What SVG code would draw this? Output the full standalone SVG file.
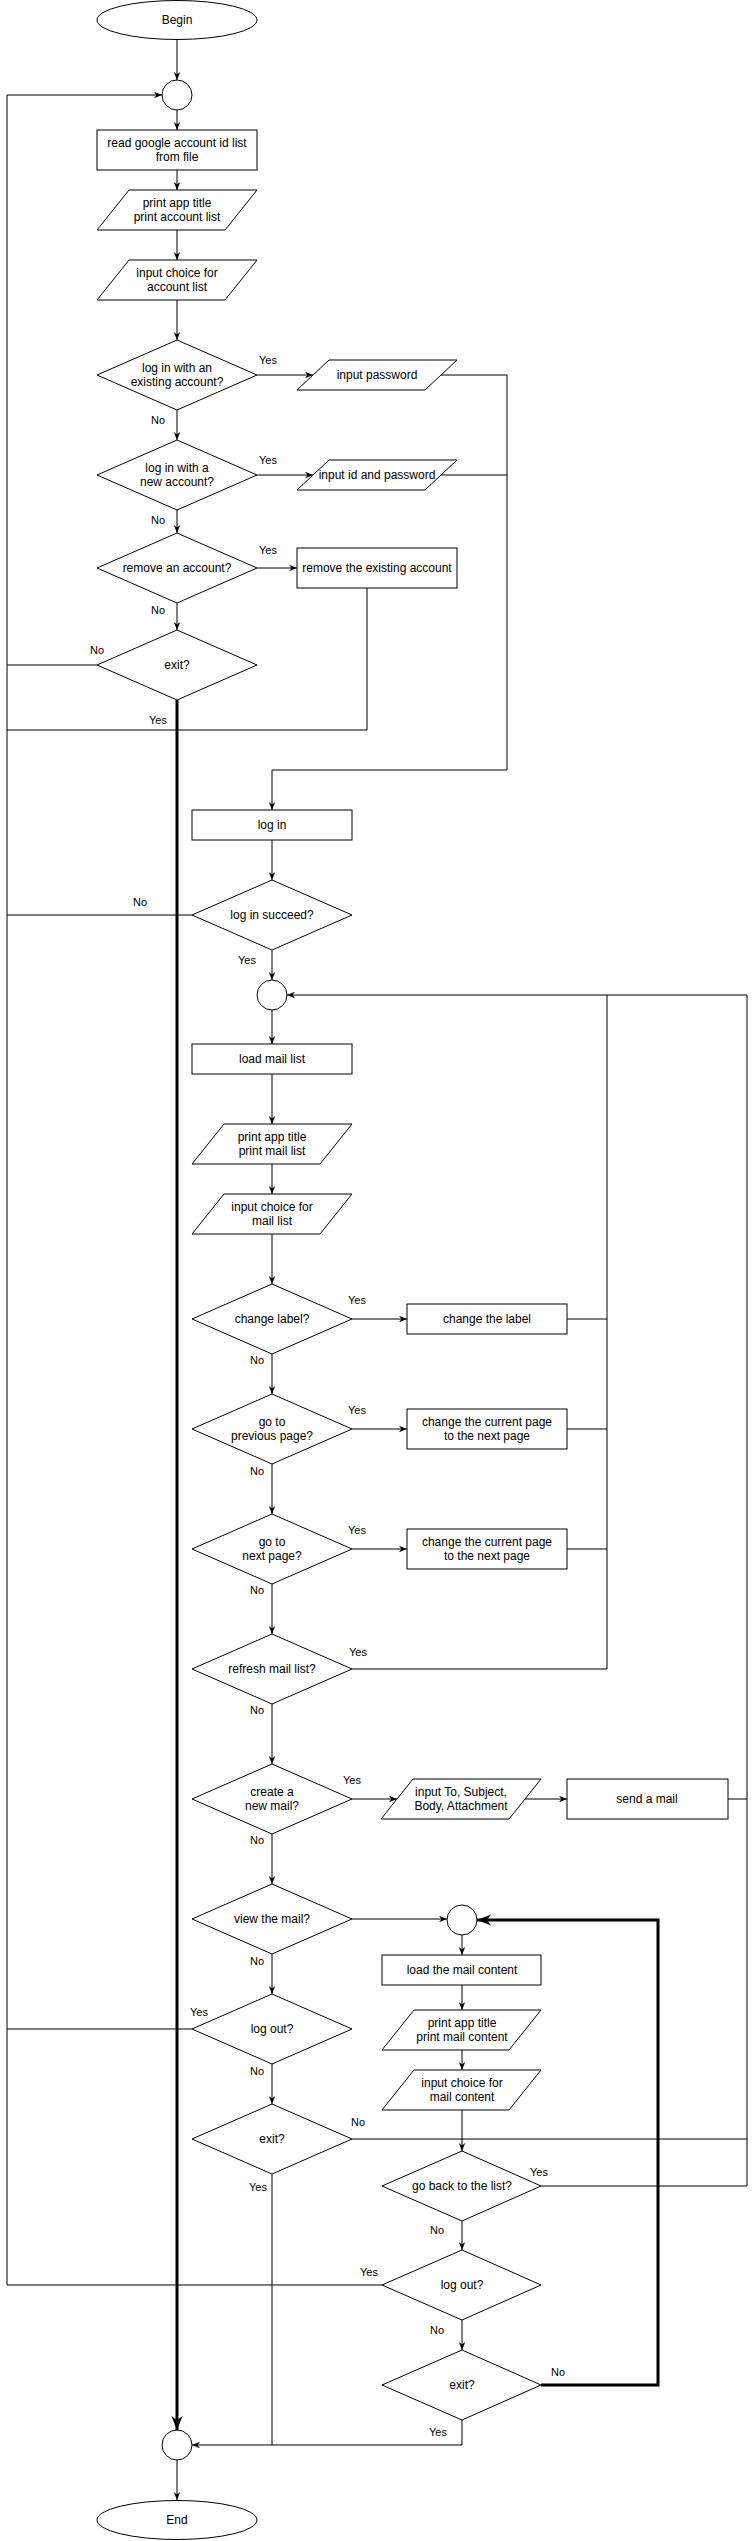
<svg xmlns="http://www.w3.org/2000/svg" width="756" height="2541" viewBox="0 0 756 2541">
<style>
.n{fill:#fff;stroke:#000;stroke-width:1}
.c{fill:none;stroke:#000;stroke-width:1}
.k{fill:none;stroke:#000;stroke-width:3}
text{font-family:"Liberation Sans",Arial,sans-serif;font-size:12px;text-anchor:middle;fill:#000}
.l{font-size:11px}
</style>
<defs>
<marker id="a" viewBox="0 0 10 10" refX="10" refY="5" markerWidth="8" markerHeight="8" orient="auto" markerUnits="userSpaceOnUse"><path d="M0,1 L10,5 L0,9 L3,5 z" fill="#000"/></marker>
<marker id="b" viewBox="0 0 10 10" refX="10" refY="5" markerWidth="14" markerHeight="14" orient="auto" markerUnits="userSpaceOnUse"><path d="M0,1 L10,5 L0,9 L3,5 z" fill="#000"/></marker>
</defs>
<g id="connectors">
<path class="c" d="M177,40 V80" marker-end="url(#a)"/>
<path class="c" d="M7,2285 V95 H162" marker-end="url(#a)"/>
<path class="c" d="M97,665 H7"/>
<path class="c" d="M192,915 H7"/>
<path class="c" d="M192,2029 H7"/>
<path class="c" d="M382,2285 H7"/>
<path class="c" d="M367,588 V730 H7"/>
<path class="c" d="M177,110 V130" marker-end="url(#a)"/>
<path class="c" d="M177,170 V190" marker-end="url(#a)"/>
<path class="c" d="M177,230 V260" marker-end="url(#a)"/>
<path class="c" d="M177,300 V340" marker-end="url(#a)"/>
<path class="c" d="M257,375 H313" marker-end="url(#a)"/>
<path class="c" d="M177,410 V440" marker-end="url(#a)"/>
<path class="c" d="M257,475 H313" marker-end="url(#a)"/>
<path class="c" d="M177,510 V533" marker-end="url(#a)"/>
<path class="c" d="M257,568 H297" marker-end="url(#a)"/>
<path class="c" d="M177,603 V630" marker-end="url(#a)"/>
<path class="c" d="M441,375 H507 V770 H272 V810" marker-end="url(#a)"/>
<path class="c" d="M441,475 H507"/>
<path class="k" d="M177,700 V2430" marker-end="url(#b)"/>
<path class="c" d="M272,840 V880" marker-end="url(#a)"/>
<path class="c" d="M272,950 V980" marker-end="url(#a)"/>
<path class="c" d="M272,1010 V1044" marker-end="url(#a)"/>
<path class="c" d="M272,1074 V1124" marker-end="url(#a)"/>
<path class="c" d="M272,1164 V1194" marker-end="url(#a)"/>
<path class="c" d="M272,1234 V1284" marker-end="url(#a)"/>
<path class="c" d="M352,1319 H407" marker-end="url(#a)"/>
<path class="c" d="M567,1319 H607"/>
<path class="c" d="M272,1354 V1394" marker-end="url(#a)"/>
<path class="c" d="M352,1429 H407" marker-end="url(#a)"/>
<path class="c" d="M567,1429 H607"/>
<path class="c" d="M272,1464 V1514" marker-end="url(#a)"/>
<path class="c" d="M352,1549 H407" marker-end="url(#a)"/>
<path class="c" d="M567,1549 H607"/>
<path class="c" d="M272,1584 V1634" marker-end="url(#a)"/>
<path class="c" d="M352,1669 H607 V995"/>
<path class="c" d="M747,2186 V995 H287" marker-end="url(#a)"/>
<path class="c" d="M272,1704 V1764" marker-end="url(#a)"/>
<path class="c" d="M352,1799 H397" marker-end="url(#a)"/>
<path class="c" d="M525,1799 H567" marker-end="url(#a)"/>
<path class="c" d="M728,1799 H747"/>
<path class="c" d="M272,1834 V1884" marker-end="url(#a)"/>
<path class="c" d="M352,1919 H447" marker-end="url(#a)"/>
<path class="c" d="M272,1954 V1994" marker-end="url(#a)"/>
<path class="c" d="M272,2064 V2104" marker-end="url(#a)"/>
<path class="c" d="M352,2139 H747"/>
<path class="c" d="M272,2174 V2445"/>
<path class="c" d="M462,1935 V1955" marker-end="url(#a)"/>
<path class="c" d="M462,1985 V2010" marker-end="url(#a)"/>
<path class="c" d="M462,2050 V2070" marker-end="url(#a)"/>
<path class="c" d="M462,2110 V2151" marker-end="url(#a)"/>
<path class="c" d="M541,2186 H747"/>
<path class="c" d="M462,2221 V2250" marker-end="url(#a)"/>
<path class="c" d="M462,2320 V2350" marker-end="url(#a)"/>
<path class="k" d="M541,2385 H658 V1920 H477" marker-end="url(#b)"/>
<path class="c" d="M462,2420 V2445 H192" marker-end="url(#a)"/>
<path class="c" d="M177,2460 V2500" marker-end="url(#a)"/>
</g>
<g id="labels" class="l">
<text class="l" x="268" y="364">Yes</text>
<text class="l" x="158" y="424">No</text>
<text class="l" x="268" y="464">Yes</text>
<text class="l" x="158" y="524">No</text>
<text class="l" x="268" y="554">Yes</text>
<text class="l" x="158" y="614">No</text>
<text class="l" x="97" y="654">No</text>
<text class="l" x="158" y="724">Yes</text>
<text class="l" x="140" y="906">No</text>
<text class="l" x="247" y="964">Yes</text>
<text class="l" x="357" y="1304">Yes</text>
<text class="l" x="257" y="1364">No</text>
<text class="l" x="357" y="1414">Yes</text>
<text class="l" x="257" y="1475">No</text>
<text class="l" x="357" y="1534">Yes</text>
<text class="l" x="257" y="1594">No</text>
<text class="l" x="358" y="1656">Yes</text>
<text class="l" x="257" y="1714">No</text>
<text class="l" x="352" y="1784">Yes</text>
<text class="l" x="257" y="1844">No</text>
<text class="l" x="257" y="1965">No</text>
<text class="l" x="199" y="2016">Yes</text>
<text class="l" x="257" y="2075">No</text>
<text class="l" x="358" y="2126">No</text>
<text class="l" x="258" y="2191">Yes</text>
<text class="l" x="539" y="2176">Yes</text>
<text class="l" x="437" y="2234">No</text>
<text class="l" x="369" y="2276">Yes</text>
<text class="l" x="437" y="2334">No</text>
<text class="l" x="558" y="2376">No</text>
<text class="l" x="438" y="2436">Yes</text>
</g>
<g id="begin"><ellipse class="n" cx="177" cy="20" rx="80" ry="19.5"/><text x="177" y="24">Begin</text></g>
<g id="join1"><circle class="n" cx="177" cy="95" r="15"/></g>
<g id="readIds"><rect class="n" x="97" y="130" width="160" height="40"/><text x="177" y="147">read google account id list</text><text x="177" y="161">from file</text></g>
<g id="printAccounts"><polygon class="n" points="129,190 257,190 225,230 97,230"/><text x="177" y="207">print app title</text><text x="177" y="221">print account list</text></g>
<g id="inputAccountChoice"><polygon class="n" points="129,260 257,260 225,300 97,300"/><text x="177" y="277">input choice for</text><text x="177" y="291">account list</text></g>
<g id="dExisting"><polygon class="n" points="97,375 177,340 257,375 177,410"/><text x="177" y="372">log in with an</text><text x="177" y="386">existing account?</text></g>
<g id="inputPassword"><polygon class="n" points="329,360 457,360 425,390 297,390"/><text x="377" y="379">input password</text></g>
<g id="dNew"><polygon class="n" points="97,475 177,440 257,475 177,510"/><text x="177" y="472">log in with a</text><text x="177" y="486">new account?</text></g>
<g id="inputIdPassword"><polygon class="n" points="329,460 457,460 425,490 297,490"/><text x="377" y="479">input id and password</text></g>
<g id="dRemove"><polygon class="n" points="97,568 177,533 257,568 177,603"/><text x="177" y="572">remove an account?</text></g>
<g id="removeAccount"><rect class="n" x="297" y="548" width="160" height="40"/><text x="377" y="572">remove the existing account</text></g>
<g id="dExit1"><polygon class="n" points="97,665 177,630 257,665 177,700"/><text x="177" y="669">exit?</text></g>
<g id="login"><rect class="n" x="192" y="810" width="160" height="30"/><text x="272" y="829">log in</text></g>
<g id="dLoginOk"><polygon class="n" points="192,915 272,880 352,915 272,950"/><text x="272" y="919">log in succeed?</text></g>
<g id="join2"><circle class="n" cx="272" cy="995" r="15"/></g>
<g id="loadMailList"><rect class="n" x="192" y="1044" width="160" height="30"/><text x="272" y="1063">load mail list</text></g>
<g id="printMailList"><polygon class="n" points="224,1124 352,1124 320,1164 192,1164"/><text x="272" y="1141">print app title</text><text x="272" y="1155">print mail list</text></g>
<g id="inputMailChoice"><polygon class="n" points="224,1194 352,1194 320,1234 192,1234"/><text x="272" y="1211">input choice for</text><text x="272" y="1225">mail list</text></g>
<g id="dLabel"><polygon class="n" points="192,1319 272,1284 352,1319 272,1354"/><text x="272" y="1323">change label?</text></g>
<g id="changeLabel"><rect class="n" x="407" y="1304" width="160" height="30"/><text x="487" y="1323">change the label</text></g>
<g id="dPrev"><polygon class="n" points="192,1429 272,1394 352,1429 272,1464"/><text x="272" y="1426">go to</text><text x="272" y="1440">previous page?</text></g>
<g id="changePrev"><rect class="n" x="407" y="1409" width="160" height="40"/><text x="487" y="1426">change the current page</text><text x="487" y="1440">to the next page</text></g>
<g id="dNext"><polygon class="n" points="192,1549 272,1514 352,1549 272,1584"/><text x="272" y="1546">go to</text><text x="272" y="1560">next page?</text></g>
<g id="changeNext"><rect class="n" x="407" y="1529" width="160" height="40"/><text x="487" y="1546">change the current page</text><text x="487" y="1560">to the next page</text></g>
<g id="dRefresh"><polygon class="n" points="192,1669 272,1634 352,1669 272,1704"/><text x="272" y="1673">refresh mail list?</text></g>
<g id="dCreate"><polygon class="n" points="192,1799 272,1764 352,1799 272,1834"/><text x="272" y="1796">create a</text><text x="272" y="1810">new mail?</text></g>
<g id="inputMail"><polygon class="n" points="413,1779 541,1779 509,1819 381,1819"/><text x="461" y="1796">input To, Subject,</text><text x="461" y="1810">Body, Attachment</text></g>
<g id="sendMail"><rect class="n" x="567" y="1779" width="161" height="40"/><text x="647" y="1803">send a mail</text></g>
<g id="dView"><polygon class="n" points="192,1919 272,1884 352,1919 272,1954"/><text x="272" y="1923">view the mail?</text></g>
<g id="join3"><circle class="n" cx="462" cy="1920" r="15"/></g>
<g id="loadContent"><rect class="n" x="382" y="1955" width="159" height="30"/><text x="462" y="1974">load the mail content</text></g>
<g id="printContent"><polygon class="n" points="414,2010 541,2010 509,2050 382,2050"/><text x="462" y="2027">print app title</text><text x="462" y="2041">print mail content</text></g>
<g id="inputContentChoice"><polygon class="n" points="414,2070 541,2070 509,2110 382,2110"/><text x="462" y="2087">input choice for</text><text x="462" y="2101">mail content</text></g>
<g id="dLogout1"><polygon class="n" points="192,2029 272,1994 352,2029 272,2064"/><text x="272" y="2033">log out?</text></g>
<g id="dExit2"><polygon class="n" points="192,2139 272,2104 352,2139 272,2174"/><text x="272" y="2143">exit?</text></g>
<g id="dBack"><polygon class="n" points="382,2186 462,2151 541,2186 462,2221"/><text x="462" y="2190">go back to the list?</text></g>
<g id="dLogout2"><polygon class="n" points="382,2285 462,2250 541,2285 462,2320"/><text x="462" y="2289">log out?</text></g>
<g id="dExit3"><polygon class="n" points="382,2385 462,2350 541,2385 462,2420"/><text x="462" y="2389">exit?</text></g>
<g id="join4"><circle class="n" cx="177" cy="2445" r="15"/></g>
<g id="end"><ellipse class="n" cx="177" cy="2520" rx="80" ry="19.5"/><text x="177" y="2524">End</text></g>
</svg>
